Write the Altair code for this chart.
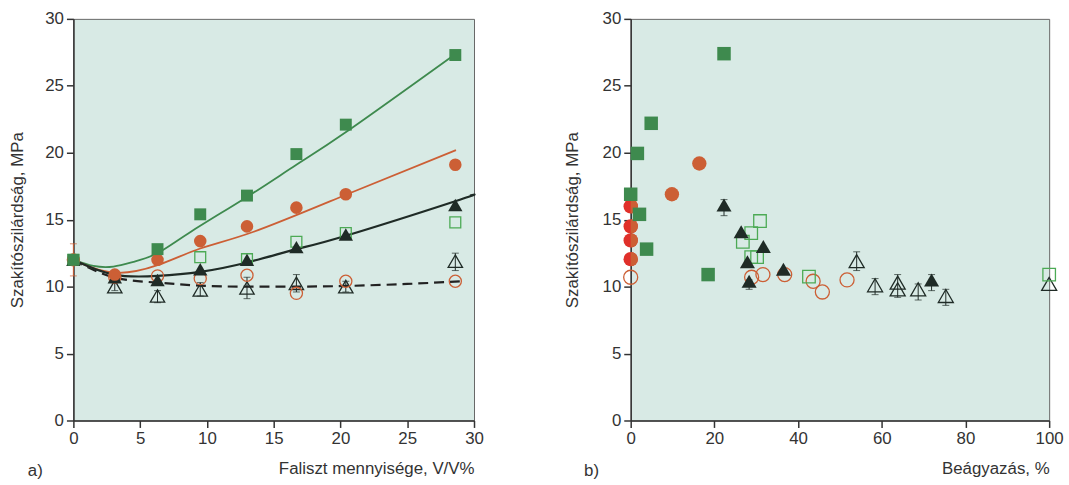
import altair as alt
import pandas as pd

# ---------------- panel a) data ----------------
a_green_fill_x = [0, 6.3, 9.5, 13.0, 16.7, 20.4, 28.6]
a_green_fill_y = [12.0, 12.8, 15.4, 16.8, 19.9, 22.1, 27.3]
a_orange_fill_x = [0, 3.1, 6.3, 9.5, 13.0, 16.7, 20.4, 28.6]
a_orange_fill_y = [12.0, 10.9, 12.0, 13.4, 14.5, 15.9, 16.9, 19.1]
a_black_fill_x = [0, 3.1, 6.3, 9.5, 13.0, 16.7, 20.4, 28.6]
a_black_fill_y = [12.0, 10.7, 10.5, 11.3, 12.0, 12.95, 13.9, 16.1]
a_green_open_x = [0, 9.5, 13.0, 16.7, 20.4, 28.6]
a_green_open_y = [12.0, 12.2, 12.05, 13.35, 14.0, 14.8]
a_black_open_x = [3.1, 6.3, 9.5, 13.0, 16.7, 20.4, 28.6]
a_black_open_y = [10.0, 9.3, 9.75, 9.9, 10.25, 10.0, 11.9]
a_orange_open_x = [0, 3.1, 6.3, 9.5, 13.0, 16.7, 20.4, 28.6]
a_orange_open_y = [12.0, 10.7, 10.8, 10.6, 10.85, 9.5, 10.4, 10.4]

# error bars (panel a)
a_errk_x = [3.1, 6.3, 9.5, 13.0, 16.7, 20.4, 28.6]
a_errk_lo = [9.7, 8.8, 9.3, 9.1, 9.6, 9.6, 11.2]
a_errk_hi = [10.6, 9.7, 10.3, 10.7, 10.9, 10.4, 12.5]
a_erro_x = [0]
a_erro_lo = [10.8]
a_erro_hi = [13.2]

# fitted curves (panel a)
c_green_x = [0, 1.5, 3.0, 4.5, 6.3, 8.8, 13.0, 16.7, 20.5, 28.65]
c_green_y = [12.0, 11.55, 11.5, 11.85, 12.5, 14.1, 16.7, 19.1, 21.6, 27.4]
c_orange_x = [0, 3.0, 6.3, 9.5, 13.5, 20.5, 28.65]
c_orange_y = [12.0, 11.05, 11.6, 12.85, 14.1, 16.9, 20.2]
c_black_x = [0, 3.0, 6.3, 9.5, 13.0, 16.7, 20.4, 28.65, 29.7]
c_black_y = [12.0, 10.9, 10.8, 11.1, 11.8, 12.8, 13.8, 16.4, 16.8]
c_dash_x = [0, 3.0, 6.3, 9.5, 13.0, 16.7, 20.4, 25.0, 29.0]
c_dash_y = [12.0, 10.7, 10.3, 10.07, 10.0, 10.0, 10.05, 10.2, 10.4]

# ---------------- panel b) data ----------------
b_green_fill_x = [0, 1.6, 2.1, 3.8, 4.9, 18.5, 22.3]
b_green_fill_y = [16.9, 19.95, 15.4, 12.8, 22.2, 10.9, 27.4]
b_red_fill_x = [0, 0, 0, 0]
b_red_fill_y = [16.0, 14.5, 13.45, 12.05]
b_orange_fill_x = [0, 0, 0, 0, 9.85, 16.4]
b_orange_fill_y = [16.0, 14.5, 13.45, 12.05, 16.9, 19.2]
b_black_fill_x = [22.3, 26.4, 27.9, 28.3, 31.7, 36.5, 71.9]
b_black_fill_y = [16.1, 14.1, 11.85, 10.4, 13.0, 11.3, 10.5]
b_green_open_x = [26.8, 28.8, 28.8, 30.2, 30.9, 42.6, 100]
b_green_open_y = [13.35, 14.0, 12.2, 12.2, 14.9, 10.75, 10.9]
b_orange_open_x = [0, 28.9, 31.6, 36.8, 43.6, 45.8, 51.7]
b_orange_open_y = [10.7, 10.7, 10.9, 10.9, 10.4, 9.6, 10.5]
b_black_open_x = [54.0, 58.4, 63.8, 63.8, 68.7, 75.3, 100]
b_black_open_y = [11.9, 10.1, 10.3, 9.8, 9.8, 9.3, 10.2]

b_err_x = [22.3, 28.3, 54.0, 58.4, 63.8, 68.7, 71.9, 75.3]
b_err_lo = [15.3, 9.8, 11.2, 9.4, 9.2, 9.0, 9.7, 8.6]
b_err_hi = [16.5, 10.5, 12.6, 10.6, 10.9, 10.2, 10.9, 9.8]

# ---------------- styling ----------------
W1, W2, H = 404, 422, 405
BG = "#d8eae5"
GREEN = "#3e8a4e"
LGREEN = "#4caa55"
ORANGE = "#cc5f35"
RED = "#e0302a"
BLACK = "#1f2b26"
FONT = "Liberation Sans"
FS = 17


def df(x, y):
    return pd.DataFrame({"x": x, "y": y})


def axes(xdom, xvals, xtitle, tpad):
    X = alt.X("x:Q", scale=alt.Scale(domain=xdom, nice=False, zero=False),
              axis=alt.Axis(values=xvals, title=xtitle, titleAnchor="end",
                            titlePadding=14, labelFlush=False))
    Y = alt.Y("y:Q", scale=alt.Scale(domain=[0, 30], nice=False),
              axis=alt.Axis(values=[0, 5, 10, 15, 20, 25, 30],
                            title="Szakítószilárdság, MPa", titlePadding=tpad))
    return X, Y


def pts(data, X, Y, shape, color, filled, size, clip=False):
    if filled:
        m = alt.Chart(data).mark_point(shape=shape, filled=True, fill=color,
                                       color=color, opacity=1, size=size, clip=clip)
    else:
        m = alt.Chart(data).mark_point(shape=shape, filled=False, stroke=color,
                                       color=color, opacity=1, size=size,
                                       strokeWidth=1.3, clip=clip)
    return m.encode(x=X, y=Y)


def line(data, X, Y, color, dash=None, width=1.8):
    kw = dict(color=color, strokeWidth=width, interpolate="natural")
    if dash:
        kw["strokeDash"] = dash
    return alt.Chart(data).mark_line(**kw).encode(x=X, y=Y)


def errbars(x, lo, hi, color, X, Y):
    d = pd.DataFrame({"x": x, "y": lo, "y2": hi})
    rule = alt.Chart(d).mark_rule(color=color, strokeWidth=1).encode(
        x=X, y=Y, y2="y2:Q")
    cap_lo = alt.Chart(d).mark_tick(color=color, thickness=1, size=7,
                                    orient="horizontal").encode(x=X, y=Y)
    cap_hi = alt.Chart(d).mark_tick(color=color, thickness=1, size=7,
                                    orient="horizontal").encode(
        x=X, y=alt.Y("y2:Q", scale=alt.Scale(domain=[0, 30], nice=False)))
    return rule + cap_lo + cap_hi


def label(txt, xoff):
    return alt.Chart(pd.DataFrame({"t": [txt]})).mark_text(
        align="left", baseline="middle", font=FONT, fontSize=FS, color="#333"
    ).encode(text="t:N", x=alt.value(xoff), y=alt.value(H + 51))


# ---------------- panel a ----------------
Xa, Ya = axes([0, 30], [0, 5, 10, 15, 20, 25, 30], "Faliszt mennyisége, V/V%", 18)

panel_a = alt.layer(
    line(df(c_dash_x, c_dash_y), Xa, Ya, "#222", dash=[10, 6], width=2.2),
    line(df(c_green_x, c_green_y), Xa, Ya, GREEN),
    line(df(c_orange_x, c_orange_y), Xa, Ya, ORANGE),
    line(df(c_black_x, c_black_y), Xa, Ya, BLACK, width=2.2),
    errbars(a_errk_x, a_errk_lo, a_errk_hi, BLACK, Xa, Ya),
    errbars(a_erro_x, a_erro_lo, a_erro_hi, ORANGE, Xa, Ya),
    pts(df(a_black_open_x, a_black_open_y), Xa, Ya, "triangle-up", BLACK, False, 210),
    pts(df(a_orange_open_x, a_orange_open_y), Xa, Ya, "circle", ORANGE, False, 150),
    pts(df(a_green_open_x, a_green_open_y), Xa, Ya, "square", LGREEN, False, 120),
    pts(df(a_black_fill_x, a_black_fill_y), Xa, Ya, "triangle-up", BLACK, True, 210),
    pts(df(a_orange_fill_x, a_orange_fill_y), Xa, Ya, "circle", ORANGE, True, 160),
    pts(df(a_green_fill_x, a_green_fill_y), Xa, Ya, "square", GREEN, True, 145),
    label("a)", -46),
).properties(width=W1, height=H)

# ---------------- panel b ----------------
Xb, Yb = axes([0, 100], [0, 20, 40, 60, 80, 100], "Beágyazás, %", 21)

panel_b = alt.layer(
    errbars(b_err_x, b_err_lo, b_err_hi, BLACK, Xb, Yb),
    pts(df(b_black_open_x, b_black_open_y), Xb, Yb, "triangle-up", BLACK, False, 230),
    pts(df(b_orange_open_x, b_orange_open_y), Xb, Yb, "circle", ORANGE, False, 200),
    pts(df(b_green_open_x, b_green_open_y), Xb, Yb, "square", LGREEN, False, 160),
    pts(df(b_black_fill_x, b_black_fill_y), Xb, Yb, "triangle-up", BLACK, True, 230),
    pts(df(b_red_fill_x, b_red_fill_y), Xb, Yb, "circle", RED, True, 210),
    pts(df(b_orange_fill_x, b_orange_fill_y), Xb, Yb, "circle", ORANGE, True, 210, clip=True),
    pts(df(b_green_fill_x, b_green_fill_y), Xb, Yb, "square", GREEN, True, 185),
    label("b)", -47),
).properties(width=W2, height=H)

chart = alt.hconcat(panel_a, panel_b, spacing=79).properties(
    padding={"left": 8, "top": 7, "right": 5, "bottom": 2}
).configure_view(
    fill=BG, stroke="#666", strokeWidth=1
).configure_axis(
    domainColor="#333", domainWidth=1.5, tickColor="#333", tickWidth=1.5,
    tickSize=7, labelFont=FONT, labelFontSize=FS, labelColor="#333",
    labelPadding=3, titleFont=FONT, titleFontSize=FS, titleFontWeight="normal",
    titleColor="#333", grid=False
)

chart.save("out.html", embed_options={"renderer": "svg", "actions": False})
